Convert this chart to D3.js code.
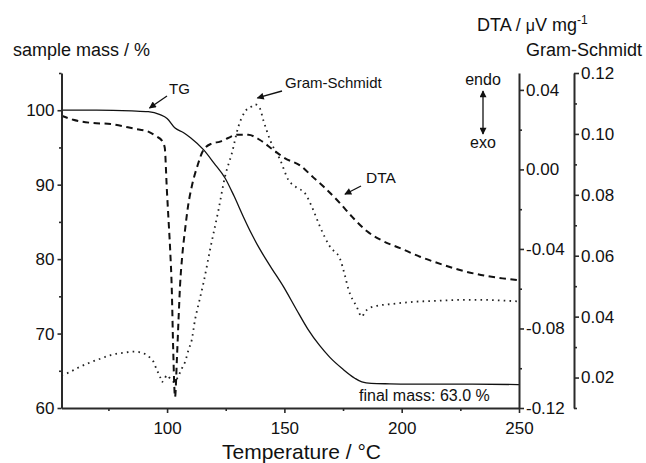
<!DOCTYPE html>
<html>
<head>
<meta charset="utf-8">
<script src="https://cdn.jsdelivr.net/npm/d3@7/dist/d3.min.js"></script>
<style>
  html, body { margin: 0; padding: 0; background: #fff; }
  svg { display: block; }
  text { font-family: "Liberation Sans", Arial, Helvetica, sans-serif; fill: #111; }
</style>
</head>
<body>
<svg id="chart" width="646" height="463"></svg>
<script>
// ---------------- DATA ----------------
const tgTemp = [55, 70, 85, 92, 97, 100, 103.4, 106.9, 110, 115.5, 120, 124.7, 128.5, 132.5, 136, 139.6, 144.5, 149.6, 155, 160, 165, 169.4, 175, 180, 183, 187, 195, 210, 230, 250];
const tgMass = [100.0, 100.0, 99.9, 99.8, 99.4, 98.9, 97.6, 97.0, 96.3, 94.7, 92.9, 90.9, 88.5, 85.7, 83.4, 81.3, 78.8, 76.3, 73.3, 70.6, 68.4, 66.8, 65.2, 64.0, 63.5, 63.3, 63.25, 63.2, 63.2, 63.15];

const dtaTemp = [55, 60, 67, 76, 86, 92, 95.6, 97.8, 99.0, 99.9, 100.6, 101.3, 102.0, 102.6, 103.4, 104.2, 104.9, 105.5, 106.5, 107.7, 109, 110.5, 113, 115.5, 119, 122.6, 126, 129.7, 134.6, 139.6, 145.3, 150.3, 156.7, 162.3, 167, 173.7, 179, 185.1, 192, 199.3, 207.8, 217.7, 224.8, 236.2, 243, 250];
const dtaValue = [0.027, 0.025, 0.0235, 0.0228, 0.0205, 0.019, 0.0165, 0.0145, 0.011, -0.010, -0.025, -0.040, -0.060, -0.090, -0.1145, -0.095, -0.075, -0.059, -0.043, -0.030, -0.018, -0.0087, 0.002, 0.0098, 0.013, 0.014, 0.0158, 0.0174, 0.0174, 0.0148, 0.0098, 0.0056, 0.002, -0.004, -0.009, -0.017, -0.024, -0.031, -0.036, -0.0396, -0.0439, -0.048, -0.0506, -0.0536, -0.0548, -0.0558];

const gsTemp = [55, 58, 62, 67, 72, 76, 81, 86, 89, 91.3, 93, 94.2, 95.6, 97.0, 97.7, 99.1, 99.8, 101.5, 103, 104.5, 106.3, 107.7, 109.1, 110.5, 111.9, 113.7, 115.5, 118.3, 121.9, 124.7, 127.6, 130.4, 133.2, 136, 137.5, 139.5, 141, 143.9, 148.2, 151.7, 155, 158.8, 162.3, 165.2, 169.4, 173.7, 175.8, 177.3, 180.8, 183, 184.4, 187.9, 196.4, 205.7, 215, 225, 235, 245, 250];
const gsValue = [0.0208, 0.0216, 0.0232, 0.0249, 0.0263, 0.0274, 0.0281, 0.0285, 0.0282, 0.0274, 0.0263, 0.0252, 0.0225, 0.0203, 0.0185, 0.0198, 0.0208, 0.0195, 0.0185, 0.0200, 0.0230, 0.0252, 0.029, 0.0323, 0.0389, 0.045, 0.051, 0.0619, 0.075, 0.086, 0.0936, 0.1024, 0.1073, 0.1090, 0.1097, 0.1085, 0.1046, 0.0980, 0.0915, 0.0849, 0.0825, 0.0805, 0.075, 0.0695, 0.063, 0.059, 0.0535, 0.049, 0.0433, 0.0400, 0.0416, 0.0433, 0.0442, 0.0449, 0.0452, 0.0455, 0.0455, 0.0452, 0.0450];

const xMajorTicks = [100, 150, 200, 250];
const xMinorTicks = [75, 125, 175, 225];
const massMajorTicks = [60, 70, 80, 90, 100];
const massMinorTicks = [65, 75, 85, 95, 105];
const dtaMajorTicks = [-0.12, -0.08, -0.04, 0.00, 0.04];
const dtaMinorTicks = [-0.10, -0.06, -0.02, 0.02];
const gsMajorTicks = [0.02, 0.04, 0.06, 0.08, 0.10, 0.12];
const gsMinorTicks = [0.01, 0.03, 0.05, 0.07, 0.09, 0.11];

// ---------------- SCALES ----------------
const svg = d3.select("#chart");
const x  = d3.scaleLinear().domain([55, 250]).range([61.5, 519]);
const yL = d3.scaleLinear().domain([60, 105]).range([408, 73]);
const yD = d3.scaleLinear().domain([-0.12, 0.0485]).range([408, 73]);
const yG = d3.scaleLinear().domain([0.01, 0.12]).range([408, 73]);

svg.append("rect").attr("width", 646).attr("height", 463).attr("fill", "#fff");

const defs = svg.append("defs");
defs.append("marker").attr("id", "ah").attr("viewBox", "0 0 10 10")
  .attr("refX", 9).attr("refY", 5).attr("markerWidth", 9).attr("markerHeight", 7)
  .attr("markerUnits", "userSpaceOnUse").attr("orient", "auto-start-reverse")
  .append("path").attr("d", "M0,0 L10,5 L0,10 Z").attr("fill", "#111");

// ---------------- CURVES ----------------
const lineTG = d3.line().x((d, i) => x(tgTemp[i])).y(d => yL(d)).curve(d3.curveMonotoneX);
const lineDTA = d3.line().x((d, i) => x(dtaTemp[i])).y(d => yD(d)).curve(d3.curveMonotoneX);
const lineGS = d3.line().x((d, i) => x(gsTemp[i])).y(d => yG(d)).curve(d3.curveMonotoneX);

svg.append("path").attr("d", lineGS(gsValue)).attr("fill", "none")
  .attr("stroke", "#222").attr("stroke-width", 1.8).attr("stroke-dasharray", "1.6,4.2");
svg.append("path").attr("d", lineDTA(dtaValue)).attr("fill", "none")
  .attr("stroke", "#111").attr("stroke-width", 2).attr("stroke-dasharray", "6.5,4.5");
svg.append("path").attr("d", lineTG(tgMass)).attr("fill", "none")
  .attr("stroke", "#111").attr("stroke-width", 1.3);

// ---------------- AXES ----------------
const axisColor = "#2a2a2a";
function styleAxis(g, fs) {
  g.select(".domain").attr("stroke", axisColor).attr("stroke-width", 2);
  g.selectAll(".tick line").attr("stroke", axisColor).attr("stroke-width", 1.6);
  g.selectAll(".tick text").attr("fill", "#111").style("font-size", fs + "px")
    .style("font-family", '"Liberation Sans", Arial, sans-serif');
}
const fmt2 = d => d.toFixed(2);

const gx = svg.append("g").attr("transform", "translate(0,408)")
  .call(d3.axisBottom(x).tickValues(xMajorTicks).tickSize(5).tickSizeOuter(0).tickPadding(9).tickFormat(d3.format("d")));
styleAxis(gx, 17);
const gxm = svg.append("g").attr("transform", "translate(0,408)")
  .call(d3.axisBottom(x).tickValues(xMinorTicks).tickSize(3).tickSizeOuter(0).tickFormat(""));
styleAxis(gxm, 17); gxm.select(".domain").remove();

const gl = svg.append("g").attr("transform", "translate(61.5,0)")
  .call(d3.axisLeft(yL).tickValues(massMajorTicks).tickSize(4).tickSizeOuter(0).tickPadding(3).tickFormat(d3.format("d")));
styleAxis(gl, 17);
const glm = svg.append("g").attr("transform", "translate(61.5,0)")
  .call(d3.axisLeft(yL).tickValues(massMinorTicks).tickSize(2.5).tickSizeOuter(0).tickFormat(""));
styleAxis(glm, 17); glm.select(".domain").remove();

const gd = svg.append("g").attr("transform", "translate(519,0)")
  .call(d3.axisRight(yD).tickValues(dtaMajorTicks).tickSize(5).tickSizeOuter(0).tickPadding(2).tickFormat(fmt2));
styleAxis(gd, 17);
const gdm = svg.append("g").attr("transform", "translate(519,0)")
  .call(d3.axisRight(yD).tickValues(dtaMinorTicks).tickSize(3).tickSizeOuter(0).tickFormat(""));
styleAxis(gdm, 17); gdm.select(".domain").remove();

const gg = svg.append("g").attr("transform", "translate(574,0)")
  .call(d3.axisRight(yG).tickValues(gsMajorTicks).tickSize(5).tickSizeOuter(0).tickPadding(2).tickFormat(fmt2));
styleAxis(gg, 17);
const ggm = svg.append("g").attr("transform", "translate(574,0)")
  .call(d3.axisRight(yG).tickValues(gsMinorTicks).tickSize(3).tickSizeOuter(0).tickFormat(""));
styleAxis(ggm, 17); ggm.select(".domain").remove();

// ---------------- TITLES ----------------
svg.append("text").attr("x", 13).attr("y", 56).style("font-size", "18px").text("sample mass / %");
svg.append("text").attr("x", 222).attr("y", 459).style("font-size", "21px").text("Temperature / °C");
const dt = svg.append("text").attr("x", 477).attr("y", 31).style("font-size", "18px");
dt.append("tspan").text("DTA / ");
dt.append("tspan").text("μ").style("font-size", "16px");
dt.append("tspan").text("V mg");
dt.append("tspan").text("-1").attr("dy", -7).style("font-size", "12px");
svg.append("text").attr("x", 526).attr("y", 56).style("font-size", "18px").text("Gram-Schmidt");

// ---------------- ANNOTATIONS ----------------
svg.append("text").attr("x", 483).attr("y", 85).attr("text-anchor", "middle").style("font-size", "16px").text("endo");
svg.append("text").attr("x", 483).attr("y", 148).attr("text-anchor", "middle").style("font-size", "16px").text("exo");
svg.append("line").attr("x1", 483).attr("x2", 483).attr("y1", 91).attr("y2", 134)
  .attr("stroke", "#111").attr("stroke-width", 1.3)
  .attr("marker-start", "url(#ah)").attr("marker-end", "url(#ah)");

function arrow(x1, y1, x2, y2) {
  svg.append("line").attr("x1", x1).attr("y1", y1).attr("x2", x2).attr("y2", y2)
    .attr("stroke", "#111").attr("stroke-width", 1.3).attr("marker-end", "url(#ah)");
}
svg.append("text").attr("x", 169).attr("y", 94).style("font-size", "15px").text("TG");
arrow(167, 96, x(92.5), yL(100.3));
svg.append("text").attr("x", 285).attr("y", 88).style("font-size", "15px").text("Gram-Schmidt");
arrow(282, 91, x(138.5), yG(0.1118));
svg.append("text").attr("x", 366).attr("y", 183).style("font-size", "15.5px").text("DTA");
arrow(361, 186, x(175.8), yD(-0.0125));

svg.append("text").attr("x", 359).attr("y", 401).style("font-size", "16px").text("final mass: 63.0 %");
</script>
</body>
</html>
